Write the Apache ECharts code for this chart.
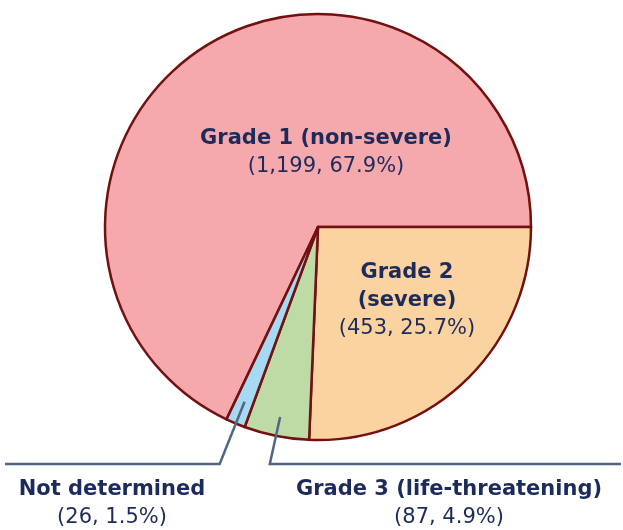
<!DOCTYPE html>
<html>
<head>
<meta charset="utf-8">
<script src="https://cdn.jsdelivr.net/npm/echarts@6/dist/echarts.min.js"></script>
<style>
  html, body { margin: 0; padding: 0; background: #fff; }
  #chart { width: 623px; height: 530px; }
</style>
</head>
<body>
<div id="chart"></div>
<script>
// 数据
const categories = ['Grade 1 (non-severe)', 'Grade 2 (severe)', 'Grade 3 (life-threatening)', 'Not determined'];
const counts = [1199, 453, 87, 26];
const percents = [67.9, 25.7, 4.9, 1.5];
const colors = ['#f5a9ad', '#fbd3a0', '#bedba5', '#a6daf3'];

const CX = 318, CY = 227, R = 213;
const textColor = '#1d2b5b';
const lineColor = '#4f6684';

// label placement (style only); lineY/lineEnd = horizontal leader for outside labels
const labelPos = [
  {x: 326, y: 125},
  {x: 407, y: 259, wrap: true},
  {x: 449, y: 476, lineY: 464, lineEnd: 621, from: 0.91, lean: -0.22},
  {x: 112, y: 476, lineY: 464, lineEnd: 5, from: 0.89, lean: -0.40}
];

// start clockwise so that Grade 1 ends at 3 o'clock
const total = counts.reduce((a, b) => a + b, 0);
const startAngle = 360 * counts[0] / total;

function fmtNum(n) {
  return n.toLocaleString('en-US');
}

function midPoint(idx, frac) {
  let before = 0;
  for (let i = 0; i < idx; i++) before += counts[i];
  const mid = startAngle - 360 * (before + counts[idx] / 2) / total;
  const rad = mid * Math.PI / 180;
  return [CX + Math.cos(rad) * R * frac, CY - Math.sin(rad) * R * frac];
}

const chart = echarts.init(document.getElementById('chart'), null, {renderer: 'canvas'});

// 扇区
const sliceData = categories.map((name, i) => ({
  name: name,
  value: counts[i],
  itemStyle: {color: colors[i]}
}));

// 标签层（透明扇区，引导线画在扇区上面）
const labelData = categories.map((name, i) => {
  const outside = !!labelPos[i].lineY;
  return {
    name: name,
    value: counts[i],
    label: {position: outside ? 'outside' : 'inside'},
    labelLine: {show: outside}
  };
});

const option = {
  animation: false,
  series: [
    {
      type: 'pie',
      z: 2,
      center: [CX, CY],
      radius: [0, R],
      startAngle: startAngle,
      clockwise: true,
      itemStyle: {borderColor: '#731010', borderWidth: 2.5},
      label: {show: false},
      labelLine: {show: false},
      data: sliceData
    },
    {
      type: 'pie',
      z: 5,
      silent: true,
      center: [CX, CY],
      radius: [0, R],
      startAngle: startAngle,
      clockwise: true,
      avoidLabelOverlap: false,
      itemStyle: {color: 'rgba(0,0,0,0)', borderWidth: 0},
      label: {
        show: true,
        color: textColor,
        fontFamily: 'DejaVu Sans',
        formatter: function (p) {
          const i = p.dataIndex;
          let head;
          if (labelPos[i].wrap) {
            const k = categories[i].indexOf(' (');
            head = '{b|' + categories[i].slice(0, k) + '}\n{b|' + categories[i].slice(k + 1) + '}';
          } else {
            head = '{b|' + categories[i] + '}';
          }
          return head + '\n{n|(' + fmtNum(counts[i]) + ', ' + percents[i].toFixed(1) + '%)}';
        },
        rich: {
          b: {fontSize: 21, fontWeight: 'bold', color: textColor, lineHeight: 28, fontFamily: 'DejaVu Sans'},
          n: {fontSize: 21, color: textColor, lineHeight: 28, fontFamily: 'DejaVu Sans'}
        }
      },
      labelLine: {
        lineStyle: {color: lineColor, width: 2.5}
      },
      labelLayout: function (params) {
        const i = params.dataIndex;
        const lp = labelPos[i];
        const res = {x: lp.x, y: lp.y, align: 'center', verticalAlign: 'top'};
        if (lp.lineY) {
          const start = midPoint(i, lp.from);
          const bend = [start[0] + (lp.lineY - start[1]) * lp.lean, lp.lineY];
          res.labelLinePoints = [start, bend, [lp.lineEnd, lp.lineY]];
        }
        return res;
      },
      data: labelData
    }
  ]
};

chart.setOption(option);
</script>
</body>
</html>
